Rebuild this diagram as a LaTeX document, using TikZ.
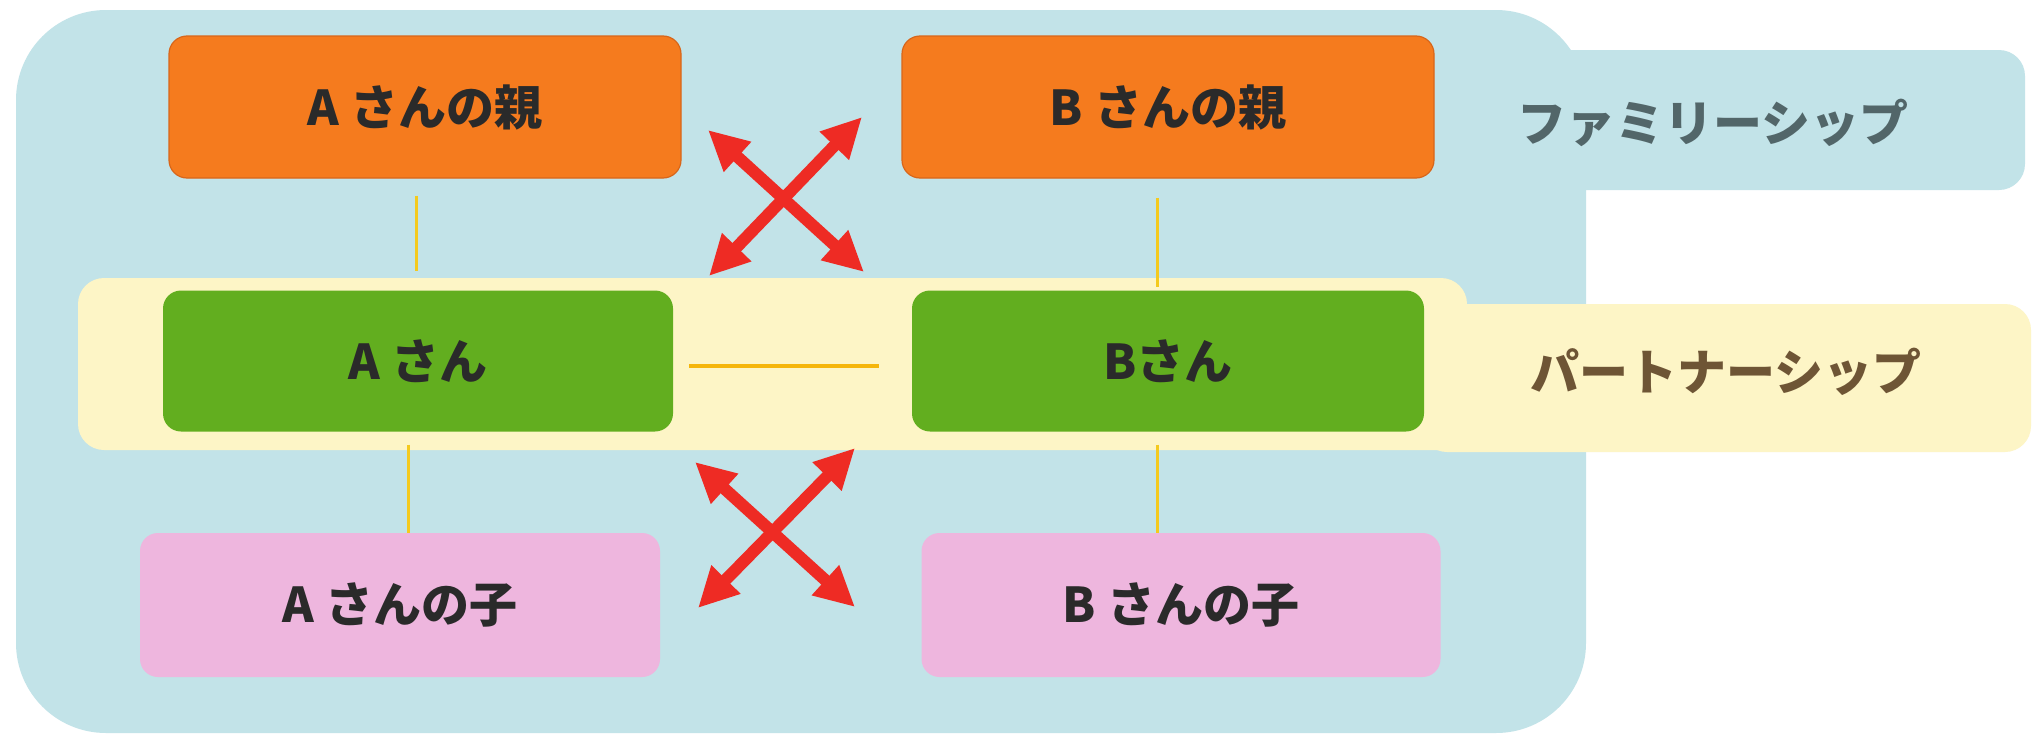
\documentclass[tikz,border=0pt]{standalone}
\usepackage{fontspec}
\setmainfont{Noto Sans CJK JP}
\usetikzlibrary{arrows.meta,calc}
\definecolor{bgblue}{HTML}{C2E3E8}
\definecolor{bgyellow}{HTML}{FDF5C6}
\definecolor{orangebox}{HTML}{F57B1E}
\definecolor{orangeedge}{HTML}{D8661A}
\definecolor{greenbox}{HTML}{62AE1F}
\definecolor{pinkbox}{HTML}{EEB6DE}
\definecolor{xred}{HTML}{EE2B24}
\definecolor{vlinecol}{HTML}{F4CA1E}
\definecolor{hlinecol}{HTML}{F5B60C}
\definecolor{txt}{HTML}{2A2A2A}
\definecolor{famtxt}{HTML}{526669}
\definecolor{partxt}{HTML}{6E5535}
\tikzset{
  box/.style={rounded corners=18pt, inner sep=0pt, text=txt,
    font=\fontsize{48}{48}\selectfont\bfseries},
  parentbox/.style={box, fill=orangebox, draw=orangeedge, line width=1.2pt},
  selfbox/.style={box, fill=greenbox},
  childbox/.style={box, fill=pinkbox},
  vline/.style={draw=vlinecol, line width=3pt},
  hline/.style={draw=hlinecol, line width=4pt},
  redarrow/.style={draw=xred, line width=12pt,
    {Triangle[length=40pt,width=38pt]}-{Triangle[length=40pt,width=38pt]}},
  tablabel/.style={font=\fontsize{49}{49}\selectfont\bfseries, inner sep=0pt}
}
\begin{document}
\begin{tikzpicture}[x=1pt,y=-1pt]
\useasboundingbox (0,0) rectangle (2035,736);
\fill[white] (0,0) rectangle (2035,736);
% family background
\fill[bgblue, rounded corners=26pt] (1440,50) rectangle (2025,190);
\fill[bgblue, rounded corners=90pt] (16,10) rectangle (1586,733);
% partnership band
\fill[bgyellow, rounded corners=26pt] (1421,304) rectangle (2031,452);
\fill[bgyellow, rounded corners=26pt] (78,278) rectangle (1467,450);
% labels
\node[tablabel, text=famtxt] (fam) at (1713,123) {ファミリーシップ};
\node[tablabel, text=partxt] (par) at (1726,372) {パートナーシップ};
% boxes
\node[parentbox, minimum width=512pt, minimum height=142pt] (pa) at (425,107) {A さんの親};
\node[parentbox, minimum width=532pt, minimum height=142pt] (pb) at (1168,107) {B さんの親};
\node[selfbox, minimum width=510pt, minimum height=141pt] (a) at (418,361) {A さん};
\node[selfbox, minimum width=512pt, minimum height=141pt] (b) at (1168,361) {Bさん};
\node[childbox, minimum width=520pt, minimum height=144pt] (ca) at (400,605) {A さんの子};
\node[childbox, minimum width=519pt, minimum height=144pt] (cb) at (1181,605) {B さんの子};
% connectors
\draw[vline] ($(pa.south)+(-9,17)$) -- ($(a.north)+(-2,-19)$);
\draw[vline] ($(pb.south)+(-11,19)$) -- ($(b.north)+(-11,-3)$);
\draw[vline] ($(a.south)+(-10,13)$) -- ($(ca.north)+(8,0)$);
\draw[vline] ($(b.south)+(-11,13)$) -- ($(cb.north)+(-24,0)$);
\draw[hline] ($(a.east)+(16,5)$) -- ($(b.west)+(-33,5)$);
% crossing arrows
\coordinate (u1) at (708,130);
\coordinate (u2) at (864,272);
\coordinate (u3) at (862,117);
\coordinate (u4) at (709,276);
\coordinate (l1) at (695,462);
\coordinate (l2) at (855,607);
\coordinate (l3) at (855,448);
\coordinate (l4) at (698,608);
\draw[redarrow] (u1) -- (u2);
\draw[redarrow] (u3) -- (u4);
\draw[redarrow] (l1) -- (l2);
\draw[redarrow] (l3) -- (l4);
\end{tikzpicture}
\end{document}
